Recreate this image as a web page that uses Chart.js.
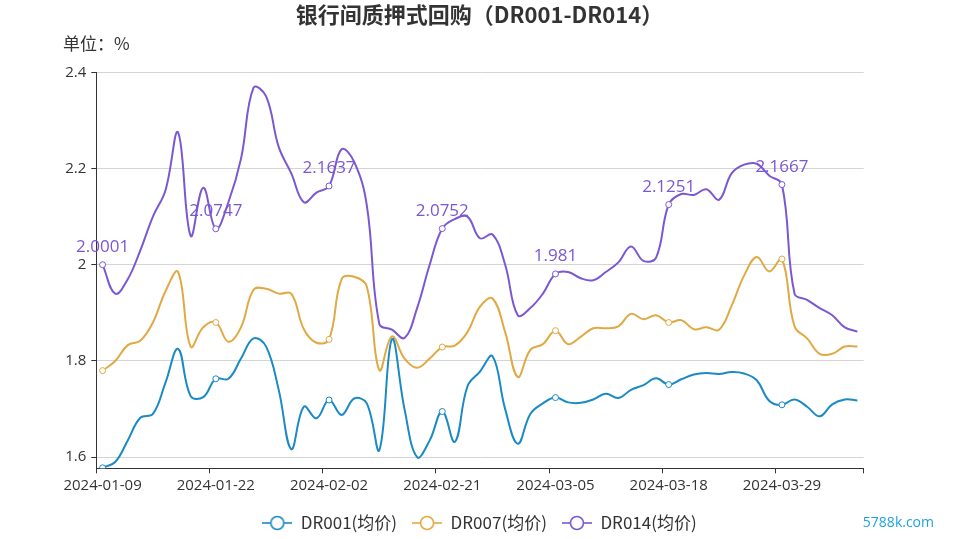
<!DOCTYPE html>
<html>
<head>
<meta charset="utf-8">
<script src="https://cdn.jsdelivr.net/npm/chart.js@4.4.1/dist/chart.umd.min.js"></script>
<style>
  html, body { margin: 0; padding: 0; background: #fff; }
  #chart { display: block; }
</style>
</head>
<body>
<canvas id="chart" width="959" height="539"></canvas>
<script>
// ================= DATA =================
const dates = [
  "2024-01-09", "2024-01-10", "2024-01-11", "2024-01-12", "2024-01-15", "2024-01-16", "2024-01-17", "2024-01-18", "2024-01-19",
  "2024-01-22", "2024-01-23", "2024-01-24", "2024-01-25", "2024-01-26", "2024-01-29", "2024-01-30", "2024-01-31", "2024-02-01",
  "2024-02-02", "2024-02-04", "2024-02-05", "2024-02-06", "2024-02-07", "2024-02-08", "2024-02-18", "2024-02-19", "2024-02-20",
  "2024-02-21", "2024-02-22", "2024-02-23", "2024-02-26", "2024-02-27", "2024-02-28", "2024-02-29", "2024-03-01", "2024-03-04",
  "2024-03-05", "2024-03-06", "2024-03-07", "2024-03-08", "2024-03-11", "2024-03-12", "2024-03-13", "2024-03-14", "2024-03-15",
  "2024-03-18", "2024-03-19", "2024-03-20", "2024-03-21", "2024-03-22", "2024-03-25", "2024-03-26", "2024-03-27", "2024-03-28",
  "2024-03-29", "2024-04-01", "2024-04-02", "2024-04-03", "2024-04-07", "2024-04-08", "2024-04-09",
];

const dr001 = [
  1.578, 1.59, 1.635, 1.682, 1.69, 1.755, 1.825, 1.727, 1.725,
  1.763, 1.763, 1.805, 1.847, 1.83, 1.74, 1.617, 1.705, 1.681,
  1.719, 1.688, 1.722, 1.712, 1.615, 1.845, 1.70, 1.60, 1.635,
  1.695, 1.632, 1.747, 1.778, 1.81, 1.70, 1.628, 1.69, 1.712,
  1.724, 1.714, 1.713, 1.72, 1.732, 1.723, 1.74, 1.75, 1.764,
  1.751, 1.762, 1.772, 1.775, 1.773, 1.777, 1.774, 1.76, 1.717,
  1.709, 1.72, 1.705, 1.685, 1.71, 1.72, 1.718,
];

const dr007 = [
  1.78, 1.80, 1.833, 1.842, 1.88, 1.945, 1.985, 1.83, 1.87,
  1.88, 1.84, 1.87, 1.948, 1.95, 1.94, 1.94, 1.866, 1.838,
  1.845, 1.97, 1.975, 1.955, 1.781, 1.851, 1.805, 1.786, 1.805,
  1.829, 1.832, 1.86, 1.913, 1.93, 1.86, 1.767, 1.823, 1.835,
  1.863, 1.835, 1.85, 1.868, 1.868, 1.872, 1.898, 1.887, 1.895,
  1.88, 1.885, 1.866, 1.87, 1.865, 1.915, 1.978, 2.016, 1.986,
  2.012, 1.872, 1.847, 1.815, 1.815, 1.83, 1.83,
];

const dr014 = [
  2.0001, 1.94, 1.97, 2.03, 2.10, 2.155, 2.275, 2.06, 2.16,
  2.0747, 2.13, 2.22, 2.368, 2.35, 2.245, 2.19, 2.13, 2.15,
  2.1637, 2.24, 2.214, 2.124, 1.877, 1.865, 1.848, 1.91, 2.00,
  2.0752, 2.095, 2.10, 2.055, 2.063, 2.00, 1.895, 1.91, 1.94,
  1.981, 1.985, 1.972, 1.968, 1.985, 2.005, 2.038, 2.008, 2.015,
  2.1251, 2.147, 2.145, 2.157, 2.135, 2.19, 2.208, 2.21, 2.185,
  2.1667, 1.94, 1.927, 1.91, 1.895, 1.87, 1.861,
];

const seriesNames = ["DR001(均价)", "DR007(均价)", "DR014(均价)"];
const yTicks = [1.6, 1.8, 2.0, 2.2, 2.4];

// ================= STYLE =================
const COLORS = ["#1a8ac4", "#e1a943", "#7b57d3"];
const CJK = '"Noto Sans CJK SC", sans-serif';
const LATIN = '"Open Sans", "Noto Sans CJK SC", sans-serif';
const labelEvery = 9;

// legend icon: short line with a hollow circle
function legendIcon(color) {
  const c = document.createElement("canvas");
  c.width = 30;
  c.height = 16;
  const g = c.getContext("2d");
  g.strokeStyle = color;
  g.lineWidth = 1.6;
  g.beginPath();
  g.moveTo(0, 8);
  g.lineTo(30, 8);
  g.stroke();
  g.beginPath();
  g.arc(15, 8, 6.5, 0, Math.PI * 2);
  g.fillStyle = "#fff";
  g.fill();
  g.stroke();
  return c;
}
const icons = COLORS.map(legendIcon);

// ================= PLUGINS =================
const pointLabels = {
  id: "pointLabels",
  afterDatasetsDraw(chart) {
    const meta = chart.getDatasetMeta(2);
    const ctx = chart.ctx;
    ctx.save();
    ctx.font = "17px " + LATIN;
    ctx.fillStyle = COLORS[2];
    ctx.textAlign = "center";
    ctx.textBaseline = "alphabetic";
    meta.data.forEach((pt, i) => {
      if (i % labelEvery) return;
      ctx.fillText(String(dr014[i]), pt.x, pt.y - 13);
    });
    ctx.restore();
  },
};

const extraText = {
  id: "extraText",
  afterDraw(chart) {
    const ctx = chart.ctx;
    ctx.save();
    ctx.fillStyle = "#333";
    ctx.font = "17px " + CJK;
    ctx.textAlign = "left";
    ctx.textBaseline = "middle";
    ctx.fillText("单位：%", 63, 44);

    ctx.fillStyle = "#1fa3e0";
    ctx.font = "14px " + LATIN;
    ctx.textAlign = "right";
    ctx.fillText("5788k.com", 934, 523);
    ctx.restore();
  },
};

// ================= CHART =================
const makeSet = (label, data, color) => ({
  label,
  data,
  borderColor: color,
  backgroundColor: color,
  borderWidth: 2,
  tension: 0.4,
  fill: false,
  yAxisID: "y",
  pointRadius: (c) => (c.dataIndex % labelEvery === 0 ? 3 : 0),
  pointHoverRadius: 3,
  pointBackgroundColor: "#fff",
  pointBorderColor: color,
  pointBorderWidth: 1,
});

new Chart(document.getElementById("chart"), {
  type: "line",
  data: {
    labels: dates,
    datasets: [
      makeSet(seriesNames[0], dr001, COLORS[0]),
      makeSet(seriesNames[1], dr007, COLORS[1]),
      makeSet(seriesNames[2], dr014, COLORS[2]),
    ],
  },
  options: {
    responsive: false,
    animation: false,
    devicePixelRatio: 1,
    layout: { padding: { left: 0, right: 0, top: 0, bottom: -2.5 } },
    plugins: {
      title: {
        display: true,
        text: "银行间质押式回购（DR001-DR014）",
        color: "#333",
        font: { family: CJK, size: 22, weight: "bold" },
        padding: { top: 1.8, bottom: 44.1 },
      },
      legend: {
        position: "bottom",
        labels: {
          usePointStyle: true,
          pointStyleWidth: 30,
          color: "#333",
          font: { family: CJK, size: 17 },
          padding: 15,
          generateLabels: (chart) =>
            chart.data.datasets.map((ds, i) => ({
              text: ds.label,
              pointStyle: icons[i],
              fillStyle: ds.borderColor,
              strokeStyle: ds.borderColor,
              lineWidth: 0,
              fontColor: "#333",
              hidden: !chart.isDatasetVisible(i),
              datasetIndex: i,
            })),
        },
      },
      tooltip: { enabled: false },
    },
    scales: {
      x: {
        offset: true,
        afterFit: (s) => { s.height = 31.2; },
        grid: {
          offset: true,
          drawOnChartArea: false,
          tickLength: 5,
          tickColor: (c) =>
            c.index === undefined || c.index % labelEvery === 0 ? "#333" : "rgba(0,0,0,0)",
        },
        border: { color: "#333" },
        ticks: {
          autoSkip: false,
          maxRotation: 0,
          padding: 3,
          color: "#333",
          font: { family: LATIN, size: 15 },
          callback(v, i) {
            return i % labelEvery === 0 ? this.getLabelForValue(v) : "";
          },
        },
      },
      y: {
        min: 1.577,
        max: 2.4,
        afterFit: (s) => { s.width = 96.3; },
        afterBuildTicks: (s) => { s.ticks = yTicks.map((v) => ({ value: v })); },
        grid: { color: "#d4d4d4", tickColor: "#333", tickLength: 5 },
        border: { color: "#333" },
        ticks: {
          padding: 5,
          color: "#333",
          font: { family: LATIN, size: 15 },
          callback: (v) => String(Number(v.toFixed(2))),
        },
      },
      // empty right-hand axis that only keeps the right margin
      yR: {
        position: "right",
        afterFit: (s) => { s.width = 95.3; },
        grid: { display: false },
        border: { display: false },
        ticks: { display: false },
      },
    },
  },
  plugins: [pointLabels, extraText],
});
</script>
</body>
</html>
